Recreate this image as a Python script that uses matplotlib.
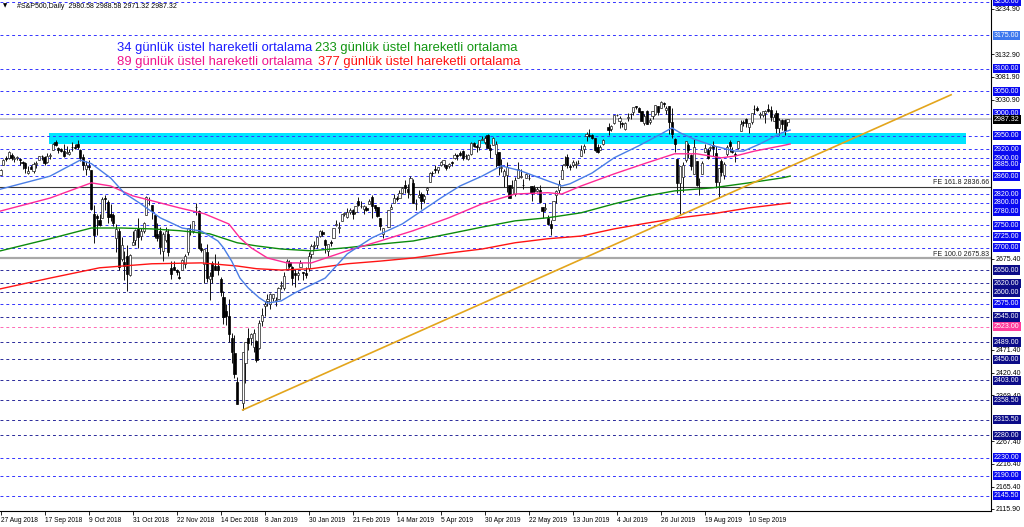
import matplotlib
matplotlib.use('Agg')

from matplotlib import pyplot as plt
from matplotlib.patches import Rectangle
import matplotlib.transforms as mtransforms

plt.rcParams['font.family'] = ['Liberation Sans', 'DejaVu Sans']

# bar slots with no candle (keeps the date labels on their 16-bar grid)
gaps = [87, 140, 220]

# daily OHLC, 24 Aug 2018 .. 30 Sep 2019
opens = [
    2862, 2884, 2901, 2900, 2908, 2898,  # Aug
    2901, 2898, 2891, 2889, 2868, 2881, 2871, 2888, 2896, 2906, 2903, 2891, 2906, 2919, 2936, 2922, 2921, 2916, 2911, 2910,  # Sep
    2926, 2924, 2931, 2919, 2902, 2877, 2883, 2874, 2776, 2770, 2763, 2767, 2811, 2802, 2775, 2773, 2721, 2737, 2675, 2668, 2682, 2640, 2705,  # Oct
    2717, 2745, 2726, 2738, 2774, 2807, 2795, 2774, 2731, 2737, 2693, 2718, 2730, 2654, 2657, 2650, 2633, 2649, 2663, 2691, 2737, 2737,  # Nov
    2790, 2782, 2700, 2663, 2691, 2630, 2665, 2659, 2658, 2629, 2590, 2559, 2547, 2497, 2465, 2400, 2352, 2442, 2498, 2499,  # Dec
    2477, 2491, 2475, 2535, 2569, 2580, 2573, 2588, 2580, 2586, 2614, 2609, 2652, 2668, 2657, 2643, 2638, 2657, 2644, 2644, 2654, 2685,  # Jan
    2703, 2707, 2727, 2735, 2718, 2692, 2712, 2722, 2750, 2743, 2760, 2775, 2769, 2779, 2785, 2780, 2805, 2793, 2787, 2789,  # Feb
    2798, 2814, 2795, 2790, 2766, 2731, 2747, 2787, 2799, 2811, 2811, 2822, 2841, 2831, 2819, 2845, 2797, 2813, 2820, 2809, 2828,  # Mar
    2848, 2868, 2876, 2873, 2884, 2888, 2886, 2882, 2892, 2900, 2908, 2912, 2916, 2905, 2899, 2910, 2935, 2928, 2926, 2941, 2937,  # Apr
    2952, 2922, 2929, 2909, 2914, 2879, 2860, 2863, 2841, 2820, 2820, 2855, 2858, 2841, 2855, 2856, 2837, 2833, 2826, 2830, 2790, 2786, 2766,  # May
    2752, 2763, 2818, 2828, 2853, 2886, 2903, 2882, 2886, 2886, 2889, 2906, 2920, 2949, 2952, 2951, 2945, 2926, 2919, 2932,  # Jun
    2971, 2965, 2979, 2996, 2984, 2979, 2966, 2989, 2999, 3003, 3018, 3012, 3006, 2978, 3005, 2982, 2995, 2998, 3017, 3013, 3024, 3007, 3017,  # Jul
    2981, 2943, 2898, 2844, 2858, 2897, 2930, 2908, 2865, 2894, 2847, 2865, 2913, 2919, 2922, 2930, 2911, 2848, 2893, 2862, 2910, 2937,  # Aug
    2918, 2909, 2924, 2960, 2980, 2988, 2971, 2982, 3010, 3013, 2997, 2996, 3002, 3010, 3008, 2983, 3002, 2968, 2985, 2986, 2980.58,  # Sep
]
highs = [
    2876, 2898, 2904, 2916, 2912, 2906,
    2905, 2900, 2894, 2892, 2883, 2886, 2892, 2894, 2906, 2908, 2905, 2912, 2912, 2935, 2941, 2926, 2924, 2931, 2928, 2920,
    2937, 2932, 2940, 2920, 2910, 2894, 2895, 2874, 2795, 2775, 2775, 2814, 2817, 2806, 2797, 2778, 2754, 2743, 2723, 2693, 2707, 2685, 2737,
    2741, 2767, 2744, 2757, 2815, 2814, 2795, 2775, 2755, 2747, 2735, 2746, 2742, 2670, 2670, 2653, 2647, 2674, 2685, 2744, 2754, 2760,
    2800, 2785, 2710, 2696, 2708, 2645, 2670, 2685, 2671, 2635, 2602, 2573, 2585, 2509, 2504, 2410, 2467, 2489, 2520, 2509,
    2519, 2493, 2538, 2566, 2580, 2596, 2598, 2597, 2590, 2613, 2626, 2645, 2675, 2672, 2660, 2653, 2647, 2673, 2645, 2656, 2691, 2708,
    2716, 2724, 2739, 2739, 2719, 2708, 2718, 2745, 2761, 2757, 2776, 2780, 2788, 2789, 2786, 2794, 2814, 2804, 2795, 2793,
    2809, 2817, 2796, 2790, 2767, 2744, 2784, 2798, 2821, 2815, 2830, 2835, 2852, 2843, 2860, 2853, 2809, 2830, 2825, 2819, 2836,
    2870, 2872, 2885, 2881, 2894, 2896, 2886, 2889, 2893, 2911, 2909, 2917, 2918, 2909, 2910, 2936, 2937, 2933, 2940, 2950, 2949,
    2954, 2931, 2948, 2938, 2914, 2898, 2875, 2891, 2841, 2852, 2858, 2892, 2875, 2853, 2868, 2865, 2837, 2841, 2836, 2841, 2792, 2799, 2772,
    2763, 2804, 2828, 2852, 2885, 2904, 2910, 2888, 2895, 2894, 2897, 2930, 2932, 2958, 2965, 2955, 2946, 2933, 2930, 2943,
    2978, 2974, 2996, 3000, 2994, 2981, 2981, 3002, 3002, 3013, 3018, 3015, 3006, 2999, 3007, 2991, 3006, 3020, 3017, 3028, 3025, 3018, 3018,
    3013, 2945, 2898, 2882, 2892, 2939, 2935, 2909, 2943, 2894, 2856, 2893, 2932, 2923, 2928, 2939, 2928, 2879, 2899, 2891, 2930, 2940,
    2925, 2914, 2938, 2985, 2985, 2989, 2979, 3000, 3020, 3017, 3003, 3006, 3008, 3022, 3017, 2999, 3008, 2990, 2987, 2988, 2988.58,
]
lows = [
    2862, 2884, 2893, 2898, 2895, 2892,
    2897, 2885, 2876, 2868, 2864, 2875, 2866, 2879, 2896, 2895, 2886, 2890, 2899, 2919, 2927, 2912, 2913, 2903, 2909, 2907,
    2917, 2920, 2921, 2893, 2874, 2862, 2874, 2784, 2710, 2729, 2749, 2767, 2784, 2756, 2760, 2749, 2691, 2651, 2671, 2628, 2603, 2636, 2705,
    2706, 2700, 2717, 2732, 2774, 2795, 2765, 2722, 2714, 2686, 2671, 2712, 2681, 2631, 2649, 2640, 2631, 2649, 2655, 2684, 2729, 2732,
    2774, 2697, 2690, 2621, 2624, 2584, 2622, 2650, 2638, 2593, 2530, 2528, 2489, 2441, 2408, 2351, 2337, 2397, 2472, 2483,
    2467, 2444, 2474, 2524, 2548, 2569, 2562, 2581, 2570, 2586, 2608, 2606, 2652, 2655, 2617, 2612, 2627, 2657, 2627, 2633, 2648, 2678,
    2697, 2700, 2724, 2727, 2687, 2682, 2703, 2722, 2748, 2732, 2760, 2770, 2767, 2775, 2764, 2775, 2794, 2789, 2775, 2782,
    2798, 2767, 2782, 2768, 2739, 2722, 2747, 2787, 2799, 2804, 2810, 2821, 2823, 2812, 2817, 2800, 2785, 2812, 2787, 2799, 2821,
    2848, 2860, 2866, 2867, 2882, 2880, 2873, 2879, 2882, 2898, 2896, 2905, 2896, 2898, 2896, 2908, 2926, 2913, 2918, 2940, 2932,
    2923, 2901, 2929, 2880, 2862, 2870, 2836, 2825, 2810, 2820, 2816, 2855, 2855, 2831, 2855, 2852, 2805, 2821, 2824, 2801, 2766, 2781, 2750,
    2728, 2763, 2800, 2822, 2853, 2883, 2878, 2874, 2881, 2879, 2887, 2905, 2912, 2938, 2947, 2944, 2916, 2912, 2918, 2929,
    2953, 2960, 2977, 2994, 2967, 2970, 2964, 2984, 2988, 2997, 3011, 3004, 2984, 2974, 2976, 2976, 2988, 2996, 2996, 3012, 3014, 3000, 2954,
    2946, 2914, 2822, 2776, 2825, 2891, 2901, 2873, 2865, 2839, 2818, 2865, 2913, 2899, 2917, 2904, 2834, 2812, 2860, 2853, 2906, 2914,
    2912, 2891, 2921, 2960, 2972, 2969, 2957, 2976, 3000, 3006, 2990, 2993, 2979, 3004, 2984, 2983, 2957, 2953, 2963, 2952, 2971.32,
]
closes = [
    2874.7, 2896.7, 2897.5, 2914.0, 2901.1, 2901.5,
    2902.0, 2896.7, 2888.6, 2878.1, 2871.7, 2877.1, 2887.9, 2888.9, 2904.2, 2905.0, 2888.8, 2904.3, 2908.0, 2930.8, 2929.7, 2919.4, 2915.6, 2906.0, 2914.0, 2914.0,
    2924.6, 2923.4, 2925.5, 2901.6, 2885.6, 2884.4, 2880.3, 2785.7, 2728.4, 2767.1, 2750.8, 2809.9, 2809.2, 2768.8, 2767.8, 2755.9, 2740.7, 2656.1, 2705.6, 2658.7, 2641.3, 2682.6, 2711.7,
    2740.4, 2723.1, 2738.3, 2755.5, 2813.9, 2806.8, 2781.0, 2726.2, 2722.2, 2701.6, 2730.2, 2736.3, 2690.7, 2641.9, 2649.9, 2645.0, 2632.6, 2673.5, 2682.2, 2743.8, 2737.8, 2760.2,
    2790.4, 2700.1, 2695.0, 2696.0, 2633.1, 2637.7, 2636.8, 2651.1, 2650.5, 2600.0, 2545.9, 2546.2, 2507.0, 2467.4, 2416.6, 2351.1, 2467.7, 2488.8, 2485.7, 2506.9,
    2510.0, 2447.9, 2531.9, 2549.7, 2574.4, 2585.0, 2596.6, 2596.3, 2582.6, 2610.3, 2616.1, 2636.0, 2670.7, 2660.0, 2632.9, 2638.7, 2642.3, 2664.8, 2643.9, 2640.0, 2681.1, 2704.1,
    2706.5, 2724.9, 2737.7, 2731.6, 2706.1, 2707.9, 2709.8, 2744.7, 2753.0, 2745.7, 2775.6, 2777.0, 2779.8, 2784.7, 2774.9, 2792.7, 2796.1, 2793.9, 2792.4, 2784.5,
    2803.7, 2792.8, 2789.7, 2771.5, 2748.9, 2743.1, 2783.3, 2791.5, 2810.9, 2808.5, 2822.5, 2832.9, 2832.6, 2824.2, 2854.9, 2800.7, 2798.4, 2818.5, 2805.4, 2815.4, 2834.4,
    2867.2, 2867.2, 2873.4, 2879.4, 2892.7, 2895.8, 2878.2, 2888.2, 2888.3, 2907.4, 2905.6, 2907.1, 2900.5, 2905.0, 2908.0, 2933.7, 2927.3, 2926.2, 2939.9, 2943.0, 2945.8,
    2923.7, 2917.5, 2945.6, 2932.5, 2884.1, 2879.4, 2870.7, 2881.4, 2811.9, 2834.4, 2851.0, 2876.3, 2859.5, 2840.2, 2864.4, 2856.3, 2822.2, 2826.1, 2831.0, 2802.4, 2783.0, 2788.9, 2752.1,
    2744.5, 2803.3, 2826.2, 2843.5, 2873.3, 2886.7, 2885.7, 2879.8, 2891.6, 2887.0, 2889.7, 2917.8, 2926.5, 2954.2, 2950.5, 2945.4, 2917.4, 2913.8, 2924.9, 2941.8,
    2964.3, 2973.0, 2995.8, 2997.0, 2990.4, 2976.0, 2979.6, 2993.1, 2999.9, 3013.8, 3014.3, 3004.0, 2984.4, 2995.1, 2976.6, 2985.0, 3005.5, 3019.6, 3003.7, 3025.9, 3021.0, 3013.2, 2980.4,
    2953.6, 2932.1, 2844.7, 2881.8, 2884.0, 2938.1, 2918.7, 2882.7, 2926.3, 2840.6, 2847.6, 2888.7, 2923.7, 2900.5, 2924.4, 2923.0, 2847.1, 2878.4, 2869.2, 2887.9, 2924.6, 2926.5,
    2915.0, 2906.3, 2937.8, 2976.0, 2978.7, 2978.4, 2979.4, 3000.9, 3009.6, 3007.4, 2998.0, 3005.7, 3006.7, 3006.8, 2992.1, 2991.8, 2966.6, 2984.9, 2977.6, 2961.8, 2987.32,
]

# exponential moving averages (bar index, value)
ema34_x = [0, 18, 29, 33, 40, 45, 51, 58, 66, 73, 79, 81, 84, 87, 90, 94, 97, 102, 107, 112, 118, 126, 135, 146,
           153, 160, 167, 175, 182, 189, 196, 204, 207, 215, 223, 232, 240, 244, 247, 252, 259, 267, 270, 276, 284, 287]
ema34_y = [2831, 2860, 2896, 2888, 2856, 2822, 2798, 2767, 2744, 2737, 2715, 2700, 2670, 2632, 2610, 2588, 2576, 2581, 2599, 2614, 2632, 2686, 2722, 2753,
           2782, 2811, 2838, 2860, 2883, 2872, 2856, 2838, 2843, 2867, 2901, 2928, 2954, 2968, 2957, 2943, 2928, 2916, 2916, 2932, 2957, 2963]
ema89_x = [0, 18, 33, 40, 48, 55, 65, 74, 83, 87, 91, 97, 104, 113, 126, 138, 150, 163, 175, 187, 199, 204, 211, 223,
           235, 245, 253, 262, 267, 274, 284, 287]
ema89_y = [2782, 2811, 2845, 2838, 2816, 2805, 2789, 2776, 2753, 2722, 2700, 2677, 2666, 2666, 2693, 2715, 2738, 2767, 2798, 2820, 2823, 2820, 2838, 2865,
           2890, 2910, 2910, 2901, 2905, 2916, 2928, 2932]
ema233_x = [0, 18, 33, 44, 55, 65, 76, 86, 93, 102, 113, 126, 138, 150, 163, 175, 187, 199, 211, 223, 235, 245, 259, 272, 284, 287]
ema233_y = [2693, 2720, 2744, 2744, 2742, 2738, 2731, 2711, 2704, 2697, 2693, 2700, 2708, 2715, 2731, 2746, 2760, 2767, 2778, 2798, 2816, 2827, 2834, 2845, 2856, 2860]
ema377_x = [0, 18, 36, 55, 73, 86, 93, 102, 113, 126, 138, 150, 163, 175, 187, 199, 211, 223, 235, 247, 259, 272, 287]
ema377_y = [2608, 2632, 2655, 2664, 2666, 2659, 2653, 2650, 2653, 2664, 2670, 2677, 2688, 2697, 2711, 2720, 2726, 2742, 2755, 2767, 2776, 2789, 2800]

# trend line from the December low
trend_x = [88, 345.5]
trend_y = [2337, 3042]

# support / resistance levels and their label colours
levels = [3250, 3175, 3100, 3050, 3000, 2950, 2920, 2900, 2885, 2860, 2820, 2800, 2780, 2750, 2725, 2700,
          2650, 2620, 2600, 2575, 2545, 2523, 2489, 2450, 2403, 2358.5, 2315.5, 2280, 2230, 2190, 2145.5]
level_kind = ['b', 'l', 'b', 'b', 'b', 'b', 'b', 'b', 'b', 'b', 'b', 'b', 'b', 'b', 'b', 'b',
              'n', 'n', 'n', 'b', 'n', 'p', 'n', 'n', 'n', 'n', 'n', 'n', 'b', 'b', 'b']
# price scale ticks that are not hidden behind the level boxes
price_ticks = [3234.9, 3132.9, 3081.9, 3030.9, 2675.4, 2471.4, 2420.4, 2369.4, 2267.4, 2216.4, 2165.4, 2115.9]

zone_low, zone_high = 2933, 2957
fe_levels = [2836.66, 2675.83]
fe_names = ['FE 161.8', 'FE 100.0']
last_price = 2987.32

date_labels = ['27 Aug 2018', '17 Sep 2018', '9 Oct 2018', '31 Oct 2018', '22 Nov 2018', '14 Dec 2018',
               '8 Jan 2019', '30 Jan 2019', '21 Feb 2019', '14 Mar 2019', '5 Apr 2019', '30 Apr 2019',
               '22 May 2019', '13 Jun 2019', '4 Jul 2019', '26 Jul 2019', '19 Aug 2019', '10 Sep 2019']

box_col = {'b': '#0a0af0', 'l': '#3d78ee', 'n': '#0c0c88', 'p': '#ff3c9c'}
line_col = {'b': '#3434ff', 'l': '#3434ff', 'n': '#2a2a9a', 'p': '#ff6ab4'}

fig = plt.figure(figsize=(10.24, 5.27), dpi=100)
ax = fig.add_axes([0.0, 16 / 527, 991 / 1024, 511 / 527])
ax.set_xlim(-0.2, 360)
ax.set_ylim(2111, 3254)

# level lines
for lev, k in zip(levels, level_kind):
    ax.axhline(lev, color=line_col[k], lw=0.7, linestyle=(0, (3, 3)), zorder=1)

# resistance zone
ax.add_patch(Rectangle((17.5, zone_low), 351 - 17.5, zone_high - zone_low,
                       facecolor='#00e5ff', edgecolor='none', zorder=0.5))

# fibo expansion lines
ax.axhline(fe_levels[0], color='#383838', lw=0.8, zorder=1.5)
ax.axhline(fe_levels[1], color='#a8a8a8', lw=1.6, zorder=1.5)
for lev, name in zip(fe_levels, fe_names):
    ax.text(359.5, lev + 2, f'{name} {lev:.2f}', fontsize=5, ha='right', va='bottom', color='#202020', zorder=6)

# bid line
ax.axhline(last_price, color='#cccccc', lw=1.4, zorder=1.2)

# candles
n_slots = len(closes) + len(gaps)
xs = [i for i in range(n_slots) if i not in gaps]
for x, o, h, l, c in zip(xs, opens, highs, lows, closes):
    ax.vlines(x, l, h, color='#101010', lw=0.7, zorder=3)
    body = max(abs(c - o), 0.8)
    if c >= o:
        ax.bar(x, body, bottom=o, width=0.8, facecolor='white', edgecolor='#202020', linewidth=0.5, zorder=3.2)
    else:
        ax.bar(x, body, bottom=c, width=0.8, facecolor='black', edgecolor='black', linewidth=0.5, zorder=3.2)

# moving averages
ax.plot(ema377_x, ema377_y, color='#ff1414', lw=1.0, zorder=4)
ax.plot(ema233_x, ema233_y, color='#0c8c0c', lw=1.0, zorder=4)
ax.plot(ema89_x, ema89_y, color='#ff2a95', lw=1.0, zorder=4)
ax.plot(ema34_x, ema34_y, color='#4a7ee6', lw=1.0, zorder=4)

# trend line
ax.plot(trend_x, trend_y, color='#e3a51c', lw=1.2, zorder=5)

# axes look
for side in ['left', 'top']:
    ax.spines[side].set_visible(False)
for side in ['right', 'bottom']:
    ax.spines[side].set_color('black')
    ax.spines[side].set_linewidth(0.8)

ax.yaxis.tick_right()
ax.set_yticks(price_ticks)
ax.set_yticklabels([f'{v:.2f}' for v in price_ticks], fontsize=5)
ax.tick_params(axis='y', length=2, pad=1, width=0.6)

tick_pos = [0.3] + [16 * k for k in range(1, len(date_labels))]
ax.set_xticks(tick_pos)
ax.set_xticklabels(date_labels, fontsize=4.8, ha='left')
ax.tick_params(axis='x', length=3, pad=1.5, width=0.6)

# boxed level labels on the price scale
trans = mtransforms.blended_transform_factory(ax.transAxes, ax.transData)
for lev, k in zip(levels, level_kind):
    ax.text(1.003, lev, f'{lev:.2f}', transform=trans, fontsize=5, color='white', ha='left', va='center',
            bbox=dict(boxstyle='square,pad=0.15', facecolor=box_col[k], edgecolor='none'), zorder=10, clip_on=False)
ax.text(1.003, last_price, f'{last_price:.2f}', transform=trans, fontsize=5, color='white', ha='left', va='center',
        bbox=dict(boxstyle='square,pad=0.15', facecolor='black', edgecolor='none'), zorder=11, clip_on=False)

# header and legend
fig.text(3 / 1024, 1 - 6 / 527, '\u25bc', fontsize=4, va='center', ha='left', family=['DejaVu Sans'])
fig.text(17 / 1024, 1 - 6 / 527, '#S&P500,Daily  2980.58 2988.58 2971.32 2987.32', fontsize=5, va='center', ha='left')

fig.text(117 / 1024, 1 - 48 / 527, '34 günlük üstel hareketli ortalama', fontsize=9.4, color='#1c1cff', va='center')
fig.text(315 / 1024, 1 - 48 / 527, '233 günlük üstel hareketli ortalama', fontsize=9.4, color='#129612', va='center')
fig.text(117 / 1024, 1 - 62 / 527, '89 günlük üstel hareketli ortalama', fontsize=9.4, color='#f0148c', va='center')
fig.text(318 / 1024, 1 - 62 / 527, '377 günlük üstel hareketli ortalama', fontsize=9.4, color='#ff1010', va='center')

fig.savefig('out.png', dpi=100)
